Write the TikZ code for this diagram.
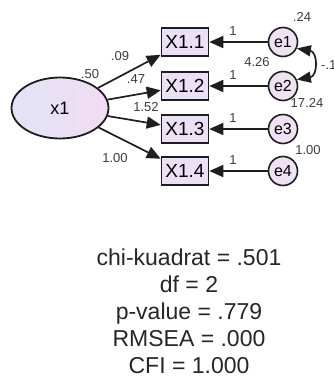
\documentclass[tikz,border=0pt]{standalone}
\usepackage{fontspec}
\setmainfont{Liberation Sans}
\usetikzlibrary{arrows.meta, shapes.geometric}
\definecolor{latentleft}{RGB}{226,228,245}
\definecolor{latentright}{RGB}{242,220,244}
\definecolor{obsfill}{RGB}{236,224,245}
\definecolor{errfill}{RGB}{241,225,244}
\definecolor{edgegray}{RGB}{30,30,30}
\definecolor{labelgray}{RGB}{60,60,60}

\begin{document}
\begin{tikzpicture}[x=1pt, y=-1pt,
  latent/.style={ellipse, draw=edgegray, line width=1.8pt, minimum width=97pt,
    minimum height=61pt, inner sep=0pt, left color=latentleft, right color=latentright,
    font=\fontsize{18}{18}\selectfont},
  obs/.style={rectangle, draw=edgegray, line width=1.6pt, minimum width=47pt,
    minimum height=28pt, inner sep=0pt, fill=obsfill, font=\fontsize{19}{19}\selectfont},
  err/.style={circle, draw=edgegray, line width=1.6pt, minimum size=29pt,
    inner sep=0pt, fill=errfill, font=\fontsize{16}{16}\selectfont},
  regpath/.style={draw=edgegray, line width=1.7pt, -{Triangle[length=14pt,width=12pt]}},
  covpath/.style={draw=edgegray, line width=1.7pt,
    {Triangle[length=14pt,width=11pt]}-{Triangle[length=14pt,width=11pt]}},
  est/.style={font=\fontsize{13}{13}\selectfont, text=labelgray, inner sep=0pt}]
  \useasboundingbox (0,0) rectangle (334,378);
  % Latent factor
  \node[latent] (x1) at (60,108) {x1};
  \node[est] (v1) at (90,74) {.50};
  % Indicators and their errors
  \node[obs] (b1) at (185,42) {X1.1};
  \node[obs] (b2) at (185,86) {X1.2};
  \node[obs] (b3) at (185,129) {X1.3};
  \node[obs] (b4) at (185,171) {X1.4};
  \node[err] (e1) at (283,42) {e1};
  \node[err] (e2) at (283,86) {e2};
  \node[err] (e3) at (283,129) {e3};
  \node[err] (e4) at (283,171) {e4};
  % Loadings
  \draw[regpath] (x1) -- (b1);
  \draw[regpath] (x1) -- (b2);
  \draw[regpath] (x1) -- (b3);
  \draw[regpath] (x1) -- (b4);
  \node[est] (l1) at (120,56) {.09};
  \node[est] (l2) at (136,79) {.47};
  \node[est] (l3) at (146,107) {1.52};
  \node[est] (l4) at (115,158) {1.00};
  % Error paths fixed to 1
  \foreach \i in {1,...,4} {
    \draw[regpath] (e\i) -- (b\i);
    \node[est] (f\i) at ([xshift=-50pt, yshift=11pt]e\i.center) {1};
  }
  % Error variances and covariance
  \draw[covpath] (e1.-25) .. controls (318,52) and (318,76) .. (e2.25);
  \node[est] (s1) at (302,17) {.24};
  \node[est] (s2) at (257,62) {4.26};
  \node[est, anchor=west] (c12) at (321,65) {-.10};
  \node[est] (s3) at (307,103) {17.24};
  \node[est] (s4) at (308,150) {1.00};
  % Fit indices
  \node[align=center, font=\fontsize{23}{27}\selectfont, text=black!85] (fit) at (189,311)
    {chi-kuadrat = .501\\df = 2\\p-value = .779\\RMSEA = .000\\CFI = 1.000};
\end{tikzpicture}
\end{document}
